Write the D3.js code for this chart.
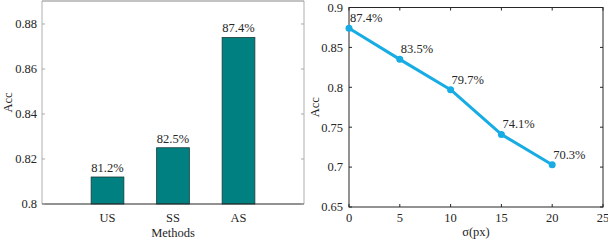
<!DOCTYPE html>
<html><head><meta charset="utf-8">
<script src="https://cdn.jsdelivr.net/npm/d3@7"></script>
<style>body{margin:0;background:#fff}svg{display:block}</style>
</head><body><svg id="c" width="608" height="240"></svg>
<script>
const methods = ["US","SS","AS"];
const methodAcc = [0.812,0.825,0.874];
const methodLabels = ["81.2%","82.5%","87.4%"];
const barTicks = [0.8,0.82,0.84,0.86,0.88];
const sigma = [0,5,10,15,20];
const sigmaAcc = [0.874,0.835,0.797,0.741,0.703];
const sigmaLabels = ["87.4%","83.5%","79.7%","74.1%","70.3%"];
const lineYTicks = [0.65,0.7,0.75,0.8,0.85,0.9];
const lineXTicks = [0,5,10,15,20,25];

const svg = d3.select("#c")
  .attr("font-family","'Liberation Serif','Times New Roman',Times,'DejaVu Serif',serif")
  .attr("font-size","12.5px").attr("fill","#262626");
const axisCol = "#262626";

// ---- Left: bar chart
{
  const L=42,R=304,T=1,B=204;
  const x = d3.scaleLinear().domain([0,4]).range([L,R]);
  const y = d3.scaleLinear().domain([0.8,0.89022]).range([B,T]);
  const g = svg.append("g");
  const bw = (x(1)-x(0))*0.5;
  g.selectAll("rect.bar").data(methods).join("rect")
    .attr("x",(d,i)=>x(i+1)-bw/2).attr("width",bw)
    .attr("y",(d,i)=>y(methodAcc[i])).attr("height",(d,i)=>B-y(methodAcc[i]))
    .attr("fill","#008080").attr("stroke","#1a3a3a").attr("stroke-width",0.8);
  g.selectAll("text.lab").data(methodLabels).join("text")
    .attr("x",(d,i)=>x(i+1)).attr("y",(d,i)=>y(methodAcc[i])-5)
    .attr("text-anchor","middle").text(d=>d);
  g.append("line").attr("x1",L).attr("x2",L).attr("y1",T).attr("y2",B).attr("stroke","#bdbdbd").attr("stroke-width",1.2);
  g.append("line").attr("x1",R).attr("x2",R).attr("y1",T).attr("y2",B).attr("stroke","#bdbdbd").attr("stroke-width",1.2);
  g.append("line").attr("x1",L).attr("x2",R).attr("y1",T).attr("y2",T).attr("stroke","#888").attr("stroke-width",1);
  g.append("line").attr("x1",L).attr("x2",R).attr("y1",B).attr("y2",B).attr("stroke",axisCol).attr("stroke-width",1.2);
  const yt = g.selectAll("g.yt").data(barTicks).join("g");
  yt.append("line").attr("x1",L).attr("x2",L+3).attr("y1",d=>y(d)).attr("y2",d=>y(d)).attr("stroke","#aaa");
  yt.append("line").attr("x1",R).attr("x2",R-3).attr("y1",d=>y(d)).attr("y2",d=>y(d)).attr("stroke","#aaa");
  yt.append("text").attr("x",L-5).attr("y",d=>y(d)).attr("dy","0.35em").attr("text-anchor","end")
    .text(d=>d3.format("")(d));
  g.selectAll("text.xt").data(methods).join("text")
    .attr("x",(d,i)=>x(i+1)).attr("y",B+14).attr("dy","0.35em").attr("text-anchor","middle").text(d=>d);
  g.append("text").attr("x",(L+R)/2).attr("y",B+29).attr("dy","0.35em").attr("text-anchor","middle").text("Methods");
  g.append("text").attr("transform",`translate(8,${(T+B)/2}) rotate(-90)`).attr("dy","0.35em").attr("text-anchor","middle").text("Acc");
}

// ---- Right: line chart
{
  const L=349,R=603,T=7.5,B=207;
  const x = d3.scaleLinear().domain([0,25]).range([L,R]);
  const y = d3.scaleLinear().domain([0.65,0.9]).range([B,T]);
  const g = svg.append("g");
  g.append("rect").attr("x",L).attr("y",T).attr("width",R-L).attr("height",B-T).attr("fill","none").attr("stroke",axisCol).attr("stroke-width",1);
  const yt = g.selectAll("g.yt").data(lineYTicks).join("g");
  yt.append("line").attr("x1",L).attr("x2",L+3).attr("y1",d=>y(d)).attr("y2",d=>y(d)).attr("stroke",axisCol);
  yt.append("line").attr("x1",R).attr("x2",R-3).attr("y1",d=>y(d)).attr("y2",d=>y(d)).attr("stroke",axisCol);
  yt.append("text").attr("x",L-6).attr("y",d=>y(d)).attr("dy","0.35em").attr("text-anchor","end")
    .text(d=>d3.format("")(d));
  const xt = g.selectAll("g.xt").data(lineXTicks).join("g");
  xt.append("line").attr("x1",d=>x(d)).attr("x2",d=>x(d)).attr("y1",B).attr("y2",B-3).attr("stroke",axisCol);
  xt.append("line").attr("x1",d=>x(d)).attr("x2",d=>x(d)).attr("y1",T).attr("y2",T+3).attr("stroke",axisCol);
  xt.append("text").attr("x",d=>x(d)).attr("y",B+11).attr("dy","0.35em").attr("text-anchor","middle").text(d=>d);
  g.append("text").attr("x",(L+R)/2).attr("y",B+25).attr("dy","0.35em").attr("text-anchor","middle").text("σ(px)");
  g.append("text").attr("transform",`translate(315,${(T+B)/2}) rotate(-90)`).attr("dy","0.35em").attr("text-anchor","middle").text("Acc");
  const col = "#17ace4";
  const line = d3.line().x((d,i)=>x(sigma[i])).y(d=>y(d));
  g.append("path").datum(sigmaAcc).attr("d",line).attr("fill","none").attr("stroke",col).attr("stroke-width",3).attr("stroke-linejoin","round");
  g.selectAll("circle").data(sigmaAcc).join("circle").attr("cx",(d,i)=>x(sigma[i])).attr("cy",d=>y(d)).attr("r",3.5).attr("fill",col);
  g.selectAll("text.dl").data(sigmaLabels).join("text")
    .attr("x",(d,i)=>x(sigma[i])+1).attr("y",(d,i)=>y(sigmaAcc[i])-6).text(d=>d);
}
</script></body></html>
